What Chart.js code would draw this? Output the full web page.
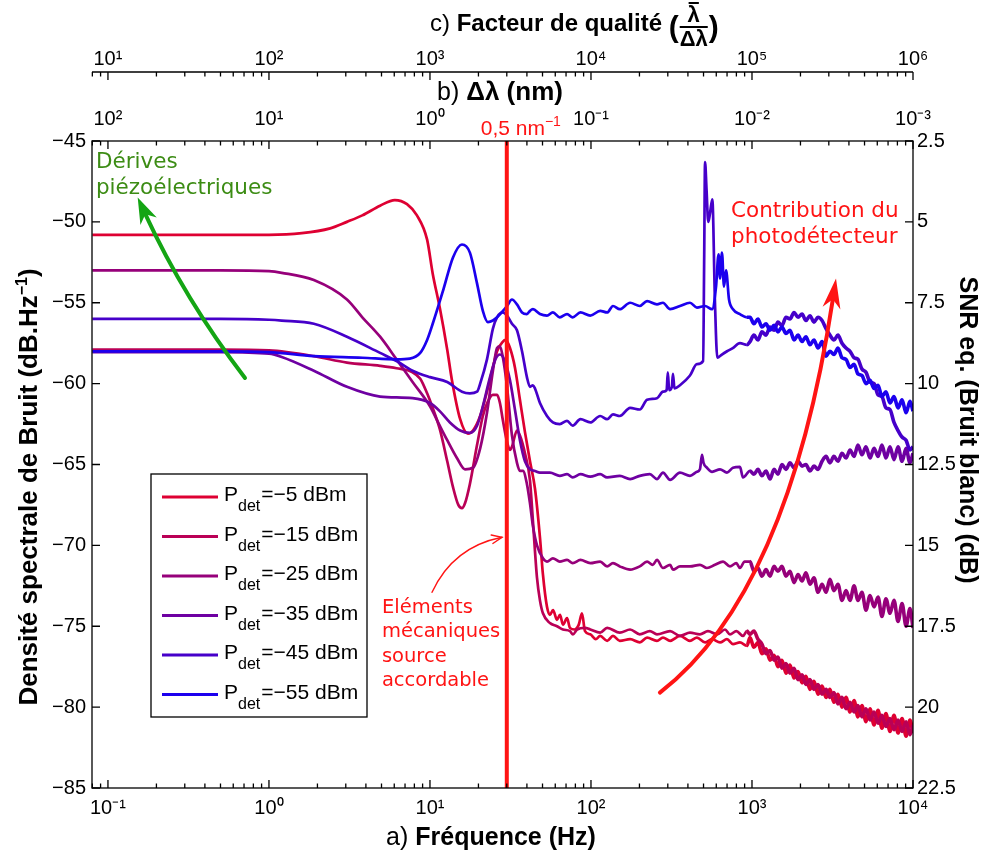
<!DOCTYPE html>
<html>
<head>
<meta charset="utf-8">
<script src="https://cdn.jsdelivr.net/npm/chart.js@4.4.0/dist/chart.umd.min.js"></script>
<style>
  html, body { margin: 0; padding: 0; background: #fff; }
  canvas { display: block; }
</style>
</head>
<body>
<canvas id="myChart" width="981" height="854"></canvas>
<script>
// ---- axis ranges ----
const fRange = [0.0796, 1e4];       // a) frequency (Hz)
const dlRange = [1e-3, 125.6];      // b) delta lambda (nm) = 10 / f
const qRange = [7.96, 1e6];         // c) quality factor = 100 f
const dbRange = [-85, -45];
const snrRange = [2.5, 22.5];
const fMark = 30;                   // 0,5 nm-1 marker

// ---- legend ----
const pdet = ['−5', '−15', '−25', '−35', '−45', '−55'];
const colors = ['rgb(222,0,50)', 'rgb(186,0,86)', 'rgb(150,0,122)', 'rgb(110,0,162)', 'rgb(70,0,202)', 'rgb(28,0,238)'];

// ---- shared frequency grid for the noisy high frequency part (Hz) ----
const fHF = [972,1028,1089,1153,1222,1294,1371,1449,1535,1626,1722,1824,1932,2046,2163,2291,2427,2570,2723,2884,3048,3228,3420,3622,3837,4064,4305,4550,4819,5105,5408,5728,6067,6412,6792,7194,7621,8072,8551,9057,9572,10000];

// ---- Pdet = -5 dBm ----
const f_m5 = [0.08,0.5,1.0,1.6,2.4,3.05,3.8,4.9,6.05,7.2,8.3,9.6,10.4,11.5,12.8,13.7,15.4,17.2,18.5,20.5,22.6,24.6,26.1,28.4,29.5,31.4,33.7,36.2,38.9,41.8,44.9,48.2,50.3,53.3,55.6,58.1,61.5,64.2,67,71,74,79,84,87.9,91.8,99,107,114,126,137,151,175,201,223,257,280,310,357,412,455,511,565,633,699,762,842,930];
const db_m5 = [-50.8,-50.8,-50.8,-50.7,-50.4,-50.0,-49.6,-49.0,-48.65,-48.9,-49.6,-51.1,-53.2,-55.3,-57.9,-59.8,-62.2,-63.1,-62.9,-62.0,-60.5,-59.0,-58.0,-57.4,-57.3,-57.8,-59.0,-61.0,-63.0,-64.8,-66.5,-69.5,-71.8,-73.8,-74.3,-74.0,-74.6,-74.3,-74.9,-74.5,-75.1,-75.2,-74.9,-74.2,-75.3,-75.5,-75.8,-75.6,-75.9,-75.6,-75.9,-75.8,-76.0,-75.7,-75.9,-75.7,-75.9,-75.6,-75.9,-75.7,-76.0,-75.8,-76.0,-75.8,-76.1,-76.0,-76.2];
const db_m5_hf = [-75.7,-76.3,-76.0,-76.7,-76.4,-77.1,-76.8,-77.5,-77.1,-77.9,-77.4,-78.2,-77.8,-78.5,-78.1,-78.9,-78.4,-79.2,-78.7,-79.4,-78.9,-79.7,-79.2,-80.0,-79.4,-80.3,-79.6,-80.6,-79.9,-80.9,-80.1,-81.1,-80.2,-81.3,-80.4,-81.5,-80.5,-81.6,-80.7,-81.8,-80.8,-81.6];

// ---- Pdet = -15 dBm ----
const f_m15 = [0.08,0.5,1.0,1.9,3.05,4.9,6.2,7.8,8.7,9.6,10.4,11.5,12.8,13.9,15.0,15.8,16.5,17.7,19.6,21.3,22.9,24.6,26.1,27.2,28.4,30.1,31.4,32.3,34.7,36.2,38.9,41.8,43.6,46.2,48.2,50.3,55.6,61.5,67,74,77.3,82,91.8,99,114,126,151,175,201,232,257,310,357,412,475,533,607,680,730,800,879,930];
const db_m15 = [-57.9,-57.9,-57.95,-58.3,-58.7,-58.9,-59.05,-59.3,-59.7,-60.6,-61.5,-62.8,-64.8,-66.4,-67.5,-67.7,-67.4,-66.2,-63.8,-62.0,-61.1,-60.7,-60.7,-61.2,-62.3,-63.6,-64.1,-63.9,-62.9,-63.2,-64.3,-66.0,-68.5,-72.0,-73.4,-74.2,-74.8,-75.0,-75.2,-75.3,-75.5,-75.2,-75.1,-75.2,-75.4,-75.1,-75.4,-75.2,-75.5,-75.3,-75.5,-75.3,-75.6,-75.4,-75.5,-75.3,-75.5,-75.2,-75.5,-75.3,-75.6,-75.3];
const db_m15_hf = [-75.5,-75.3,-75.8,-76.1,-76.7,-76.5,-77.1,-76.9,-77.6,-77.3,-77.9,-77.6,-78.3,-78.0,-78.6,-78.3,-78.9,-78.6,-79.2,-78.9,-79.4,-79.1,-79.8,-79.4,-80.1,-79.7,-80.3,-79.9,-80.6,-80.1,-80.8,-80.3,-81.0,-80.5,-81.2,-80.7,-81.4,-80.8,-81.5,-80.9,-81.7,-81.1];

// ---- Pdet = -25 dBm ----
const f_m25 = [0.08,0.5,1.0,1.2,1.9,3.05,3.8,4.9,6.2,7.8,10,11.5,12.8,14.7,16.5,18.5,20.5,22.6,24.6,26.1,27.2,28.4,30.1,32.3,34.7,36.2,37.8,40,41.8,43.6,46.2,50.3,53.3,58,64,71,77,86,99,114,126,137,151,175,201,223,242,257,280,310,323,357,412,475,525,589,661,730,799,842,900];
const db_m25 = [-53.0,-53.0,-53.05,-53.15,-53.6,-54.8,-55.9,-57.1,-58.5,-59.9,-61.4,-62.6,-63.5,-64.6,-65.3,-65.2,-64.0,-61.8,-59.2,-57.8,-57.7,-58.4,-60.2,-63.2,-64.9,-65.4,-65.4,-66.2,-67.4,-68.8,-70.0,-70.8,-71.0,-70.8,-71.0,-70.9,-71.1,-70.9,-71.1,-71.0,-71.3,-71.1,-71.3,-71.5,-71.3,-71.0,-71.2,-70.9,-71.4,-71.2,-71.5,-71.3,-71.3,-71.2,-71.4,-71.2,-71.0,-71.3,-71.1,-71.4,-71.0];
const db_m25_hf = [-71.0,-71.6,-71.4,-71.9,-71.5,-71.9,-71.3,-71.6,-71.3,-71.9,-71.6,-72.3,-71.8,-72.2,-71.7,-72.4,-72.0,-72.9,-72.4,-72.9,-72.1,-72.8,-72.4,-73.4,-72.8,-73.4,-72.5,-73.4,-72.9,-74.0,-73.1,-73.8,-73.2,-74.4,-73.3,-74.2,-73.4,-74.7,-73.6,-75.0,-73.9,-75.1];

// ---- Pdet = -35 dBm ----
const f_m35 = [0.08,0.5,1.0,1.2,1.9,3.05,4.9,7.8,10,11.5,13.3,15.4,17.7,19.6,21.3,23.6,25.5,27.2,29.2,31.4,33.7,36.2,38.9,41.8,44.9,48.2,55.6,64,71,77,86,99,114,126,151,175,201,232,257,280,310,357,412,455,475,489,500,525,565,633,699,762,842,879];
const db_m35 = [-58.05,-58.05,-58.15,-58.35,-59.2,-60.2,-60.8,-60.9,-61.2,-61.7,-62.4,-62.9,-63.05,-62.6,-61.4,-59.6,-58.5,-58.2,-58.6,-59.8,-61.6,-63.5,-64.8,-65.3,-65.4,-65.5,-65.5,-65.7,-65.6,-65.8,-65.6,-65.75,-65.6,-65.8,-65.7,-65.9,-65.7,-65.6,-65.9,-65.5,-65.95,-65.5,-65.7,-65.45,-65.3,-64.4,-64.9,-65.2,-65.45,-65.3,-65.5,-65.2,-65.15,-65.8];
const db_m35_hf = [-65.4,-65.6,-65.3,-65.7,-65.4,-65.9,-65.3,-65.6,-65.0,-65.3,-64.9,-65.2,-64.8,-65.1,-65.0,-65.4,-65.1,-65.3,-64.8,-64.5,-64.9,-64.5,-64.8,-64.3,-64.6,-64.1,-64.5,-63.8,-64.4,-63.9,-64.6,-64.0,-64.5,-63.8,-64.6,-63.9,-64.7,-63.9,-64.8,-64.0,-64.9,-64.3];

// ---- Pdet = -45 dBm ----
const f_m45 = [0.08,0.5,1.0,1.2,1.9,3.05,4.9,6.2,7.8,10,12.8,15.8,17.7,19.6,20.5,22.6,24.6,26.1,28.4,30.1,32.3,34.7,37.3,40.0,41.8,43.6,44.9,48.2,53.3,58,64,71,77,86,99,114,126,137,151,175,201,223,257,280,295,300,306,318,323,330,357,412,455,497,505,511,522,535,548,567,589,609,650,700,760,842,930];
const db_m45 = [-56.0,-56.0,-56.05,-56.1,-56.3,-57.1,-58.1,-58.6,-59.2,-59.6,-59.9,-60.5,-60.6,-60.5,-60.0,-58.5,-56.6,-55.9,-55.6,-55.8,-56.3,-56.7,-58.0,-59.6,-60.2,-60.1,-60.3,-61.2,-62.0,-62.4,-62.5,-62.3,-62.6,-62.2,-62.4,-62.0,-62.2,-61.9,-62.0,-61.5,-61.6,-61.0,-60.9,-60.5,-60.4,-59.3,-60.4,-60.2,-59.4,-60.3,-60.1,-59.5,-58.8,-58.6,-52.0,-46.3,-48.0,-50.0,-49.5,-48.6,-55.0,-58.4,-58.2,-58.0,-57.8,-57.5,-57.6];
const db_m45_hf = [-57.4,-57.0,-57.3,-56.8,-57.0,-56.5,-56.7,-56.2,-56.4,-55.9,-56.0,-55.6,-55.9,-55.7,-56.1,-55.8,-56.2,-55.9,-56.1,-56.6,-57.0,-57.3,-57.0,-57.5,-57.8,-58.0,-58.4,-58.5,-59.1,-59.3,-59.9,-60.0,-60.7,-60.8,-61.5,-61.6,-62.4,-62.9,-63.3,-63.5,-64.1,-63.9];

// ---- Pdet = -55 dBm ----
const f_m55 = [0.08,0.5,1.0,1.9,3.8,6.2,7.5,8.7,9.6,10.4,12.1,13.9,15.8,17.7,19.6,21.3,22.9,24.6,26.1,28.4,30.1,32.3,34.7,37.3,40.0,41.8,43.6,48.2,53.3,58,64,71,77,86,99,114,126,137,151,175,201,223,257,280,310,357,412,455,511,565,598,620,633,651,670,690,720,762,842,930];
const db_m55 = [-58.0,-58.0,-58.05,-58.3,-58.4,-58.5,-58.45,-58.1,-57.3,-56.3,-54.2,-52.2,-51.4,-51.9,-53.8,-55.5,-56.2,-56.1,-55.9,-55.5,-55.2,-54.8,-55.1,-55.6,-55.7,-55.5,-55.4,-55.7,-55.8,-55.6,-55.9,-55.7,-55.9,-55.6,-55.8,-55.5,-55.6,-55.2,-55.4,-55.0,-55.2,-54.9,-55.1,-55.0,-55.4,-55.2,-55.0,-55.3,-55.2,-55.4,-54.0,-52.0,-53.5,-51.9,-54.0,-53.0,-54.8,-55.4,-55.7,-55.9];
const db_m55_hf = [-55.9,-56.3,-56.0,-56.5,-56.3,-56.7,-56.4,-56.8,-56.5,-56.9,-56.7,-57.3,-57.0,-57.4,-57.1,-57.6,-57.3,-57.8,-57.4,-58.3,-58.0,-58.2,-57.8,-58.4,-58.5,-59.0,-58.8,-59.4,-59.5,-60.0,-59.8,-60.3,-60.1,-60.8,-60.5,-61.2,-60.8,-61.5,-61.0,-61.8,-61.1,-61.7];

const FONT = '"Liberation Sans", Arial, Helvetica, sans-serif';
const NOTE = '"DejaVu Sans", Verdana, sans-serif';
const RED = 'rgb(255,20,20)';

function pts(f, db) {
  return f.map((v, i) => ({ x: v, y: db[i] }));
}
function series(i, f, db, dbHf) {
  return {
    label: 'Pdet=' + pdet[i] + ' dBm',
    data: pts(f.concat(fHF), db.concat(dbHf)),
    borderColor: colors[i],
    borderWidth: 2.7,
    // the measured spectra get noisier (thicker) at high frequency
    segment: { borderWidth: c => (c.p0.parsed.x > 900 ? 3.6 : 2.7) },
    pointRadius: 0,
    cubicInterpolationMode: 'monotone',
    xAxisID: 'x', yAxisID: 'y'
  };
}

const SUP = { '-': '⁻', '0': '⁰', '1': '¹', '2': '²', '3': '³', '4': '⁴', '5': '⁵', '6': '⁶' };
function powLabel(v) {
  const e = Math.log10(v), r = Math.round(e);
  if (Math.abs(e - r) > 1e-6) return '';
  return '10' + String(r).split('').map(c => SUP[c]).join('');
}

// draw a run of text pieces with their own fonts, returns the end x
function rich(ctx, parts, x, y) {
  let cx = x;
  parts.forEach(p => {
    ctx.font = p.f;
    cx += p.dx || 0;
    ctx.fillText(p.t, cx, y + (p.dy || 0));
    cx += ctx.measureText(p.t).width;
  });
  return cx;
}
function richWidth(ctx, parts) {
  let w = 0;
  parts.forEach(p => { ctx.font = p.f; w += ctx.measureText(p.t).width + (p.dx || 0); });
  return w;
}

function stealthHead(ctx, tip, ang, len, half) {
  const c = Math.cos(ang), s = Math.sin(ang);
  ctx.beginPath();
  ctx.moveTo(tip[0], tip[1]);
  ctx.lineTo(tip[0] - len * c + half * s, tip[1] - len * s - half * c);
  ctx.lineTo(tip[0] - 0.7 * len * c, tip[1] - 0.7 * len * s);
  ctx.lineTo(tip[0] - len * c - half * s, tip[1] - len * s + half * c);
  ctx.closePath();
  ctx.fill();
}
function curveArrow(ctx, p0, c, p2, color, width, len, half) {
  const ang = Math.atan2(p2[1] - c[1], p2[0] - c[0]);
  const end = [p2[0] - 0.7 * len * Math.cos(ang), p2[1] - 0.7 * len * Math.sin(ang)];
  ctx.strokeStyle = color; ctx.fillStyle = color; ctx.lineWidth = width;
  ctx.beginPath();
  ctx.moveTo(p0[0], p0[1]);
  ctx.quadraticCurveTo(c[0], c[1], end[0], end[1]);
  ctx.stroke();
  stealthHead(ctx, p2, ang, len, half);
}

const notes = {
  id: 'notes',
  afterDatasetsDraw(chart) {
    const { ctx, scales: { x, y } } = chart;
    const P = (f, d) => [x.getPixelForValue(f), y.getPixelForValue(d)];
    ctx.save();
    ctx.lineCap = 'round';
    // piezo drift arrow
    curveArrow(ctx, P(0.71, -59.65), P(0.30, -54.8), P(0.153, -48.5), 'rgb(20,165,20)', 4, 26, 9);
    // photodetector arrow
    curveArrow(ctx, P(268, -79.1), P(1675, -73.0), P(3325, -53.5), RED, 4, 30, 9);
    // small arrow to the 30 Hz line
    const a0 = P(10.3, -72.9), ac = P(13.9, -70.1), a2 = P(28.0, -69.5);
    ctx.strokeStyle = RED; ctx.lineWidth = 1.4;
    ctx.beginPath(); ctx.moveTo(a0[0], a0[1]); ctx.quadraticCurveTo(ac[0], ac[1], a2[0], a2[1]); ctx.stroke();
    const ang = Math.atan2(a2[1] - ac[1], a2[0] - ac[0]);
    ctx.beginPath();
    ctx.moveTo(a2[0] - 11 * Math.cos(ang - 0.4), a2[1] - 11 * Math.sin(ang - 0.4));
    ctx.lineTo(a2[0], a2[1]);
    ctx.lineTo(a2[0] - 11 * Math.cos(ang + 0.4), a2[1] - 11 * Math.sin(ang + 0.4));
    ctx.stroke();

    ctx.textAlign = 'left';
    ctx.textBaseline = 'alphabetic';
    ctx.fillStyle = 'rgb(60,140,20)';
    ctx.font = '21.5px ' + NOTE;
    let p = P(0.0842, -46.67); ctx.fillText('Dérives', p[0], p[1]);
    p = P(0.0842, -48.28); ctx.fillText('piézoélectriques', p[0], p[1]);
    ctx.fillStyle = RED;
    p = P(741, -49.70); ctx.fillText('Contribution du', p[0], p[1]);
    p = P(741, -51.31); ctx.fillText('photodétecteur', p[0], p[1]);
    ctx.font = '19.5px ' + NOTE;
    const lines = ['Eléments', 'mécaniques', 'source', 'accordable'];
    const ys = [-74.18, -75.66, -77.21, -78.69];
    lines.forEach((t, i) => { const q = P(5.03, ys[i]); ctx.fillText(t, q[0], q[1]); });
    ctx.restore();
  }
};

const frame = {
  id: 'frame',
  afterDraw(chart) {
    const { ctx, chartArea: a, scales: { x, y, y2, q } } = chart;
    ctx.save();
    ctx.strokeStyle = '#000';
    ctx.lineWidth = 1.3;
    ctx.strokeRect(a.left, a.top, a.right - a.left, a.bottom - a.top);

    // log ticks: bottom, mirrored on top, and on the quality factor axis
    const qy = q.bottom - 1;
    ctx.beginPath();
    ctx.moveTo(a.left, qy); ctx.lineTo(a.right, qy);
    for (let e = -2; e <= 6; e++) {
      for (let m = 1; m < 10; m++) {
        const v = m * Math.pow(10, e);
        const L = m === 1 ? 8 : 4.5;
        if (v >= x.min && v <= x.max) {
          const px = x.getPixelForValue(v);
          ctx.moveTo(px, a.bottom); ctx.lineTo(px, a.bottom - L);
          ctx.moveTo(px, a.top); ctx.lineTo(px, a.top + L);
        }
        if (v >= q.min && v <= q.max) {
          const px = q.getPixelForValue(v);
          ctx.moveTo(px, qy); ctx.lineTo(px, qy + L);
        }
      }
    }
    for (let v = dbRange[0]; v <= dbRange[1]; v += 5) {
      const py = y.getPixelForValue(v);
      ctx.moveTo(a.left, py); ctx.lineTo(a.left + 8, py);
    }
    for (let v = snrRange[0]; v <= snrRange[1]; v += 2.5) {
      const py = y2.getPixelForValue(v);
      ctx.moveTo(a.right, py); ctx.lineTo(a.right - 8, py);
    }
    ctx.stroke();

    // 0,5 nm-1 label above the marker line
    const mx = x.getPixelForValue(fMark);
    ctx.fillStyle = RED;
    ctx.textBaseline = 'alphabetic';
    const mk = [{ t: '0,5 nm', f: '21px ' + FONT }, { t: '−1', f: '14px ' + FONT, dy: -9 }];
    rich(ctx, mk, mx + 14 - richWidth(ctx, mk) / 2, a.top - 6);

    // legend
    const lx = a.left + 59, ly = a.top + 333, lw = 216, lh = 243;
    ctx.fillStyle = '#fff';
    ctx.fillRect(lx, ly, lw, lh);
    ctx.strokeStyle = '#000'; ctx.lineWidth = 1.3;
    ctx.strokeRect(lx, ly, lw, lh);
    pdet.forEach((p, i) => {
      const yy = ly + 23 + i * 39.5;
      ctx.strokeStyle = colors[i]; ctx.lineWidth = 3;
      ctx.beginPath(); ctx.moveTo(lx + 11, yy); ctx.lineTo(lx + 67, yy); ctx.stroke();
      ctx.fillStyle = '#000';
      rich(ctx, [
        { t: 'P', f: '21px ' + FONT },
        { t: 'det', f: '16px ' + FONT, dy: 10 },
        { t: '=' + p + ' dBm', f: '21px ' + FONT, dx: 1 }
      ], lx + 73, yy + 4);
    });

    // axis titles
    ctx.fillStyle = '#000';
    const N = s => s + 'px ' + FONT, B = s => 'bold ' + s + 'px ' + FONT;
    const at = [{ t: 'a) ', f: N(25) }, { t: 'Fréquence (Hz)', f: B(25) }];
    rich(ctx, at, 491 - richWidth(ctx, at) / 2, 845);
    const bt = [{ t: 'b) ', f: N(25) }, { t: 'Δλ (nm)', f: B(26) }];
    rich(ctx, bt, 500 - richWidth(ctx, bt) / 2, 100);

    let cx = rich(ctx, [{ t: 'c) ', f: N(24) }, { t: 'Facteur de qualité ', f: B(24) }], 430, 31);
    ctx.font = B(30); ctx.fillText('(', cx, 37); cx += ctx.measureText('(').width + 1;
    ctx.font = B(22);
    const wd = ctx.measureText('Δλ').width, wn = ctx.measureText('λ').width;
    ctx.fillText('λ', cx + (wd - wn) / 2, 22);
    ctx.fillRect(cx + (wd - wn) / 2 + 1, 2, wn - 2, 2);
    ctx.fillRect(cx, 26, wd, 2);
    ctx.fillText('Δλ', cx, 46);
    cx += wd + 1;
    ctx.font = B(30); ctx.fillText(')', cx, 37);

    ctx.save();
    ctx.translate(37, 487); ctx.rotate(-Math.PI / 2);
    const lt = [{ t: 'Densité spectrale de Bruit (dB.Hz', f: B(26) }, { t: '−1', f: B(16), dy: -10 }, { t: ')', f: B(26) }];
    rich(ctx, lt, -richWidth(ctx, lt) / 2, 0);
    ctx.restore();

    ctx.save();
    ctx.translate(960, 430); ctx.rotate(Math.PI / 2);
    const rt = [{ t: 'SNR eq. (Bruit blanc) (dB)', f: B(25) }];
    rich(ctx, rt, -richWidth(ctx, rt) / 2, 0);
    ctx.restore();

    ctx.restore();
  }
};

const tickFont = { family: FONT, size: 20 };
const noGrid = { display: false, drawTicks: false };

const ctx = document.getElementById('myChart').getContext('2d');
const chart = new Chart(ctx, {
  type: 'line',
  data: {
    datasets: [
      {
        label: '0,5 nm-1',
        data: [{ x: fMark, y: dbRange[0] }, { x: fMark, y: dbRange[1] }],
        borderColor: RED, borderWidth: 4, pointRadius: 0, tension: 0,
        xAxisID: 'x', yAxisID: 'y'
      },
      series(5, f_m55, db_m55, db_m55_hf),
      series(4, f_m45, db_m45, db_m45_hf),
      series(3, f_m35, db_m35, db_m35_hf),
      series(2, f_m25, db_m25, db_m25_hf),
      series(1, f_m15, db_m15, db_m15_hf),
      series(0, f_m5, db_m5, db_m5_hf)
    ]
  },
  options: {
    responsive: false,
    animation: false,
    devicePixelRatio: 1,
    events: [],
    layout: { padding: 0 },
    plugins: { legend: { display: false }, tooltip: { enabled: false } },
    scales: {
      x: {
        type: 'logarithmic', position: 'bottom', min: fRange[0], max: fRange[1],
        afterFit: s => { s.height = 66; },
        grid: noGrid, border: { display: false },
        ticks: { autoSkip: false, maxRotation: 0, padding: 8, color: '#000', font: tickFont, callback: powLabel }
      },
      dl: {
        type: 'logarithmic', position: 'top', weight: 1, reverse: true, min: dlRange[0], max: dlRange[1],
        afterFit: s => { s.height = 68; },
        grid: noGrid, border: { display: false },
        ticks: { autoSkip: false, maxRotation: 0, padding: 10, color: '#000', font: tickFont, callback: powLabel }
      },
      q: {
        type: 'logarithmic', position: 'top', weight: 2, min: qRange[0], max: qRange[1],
        afterFit: s => { s.height = 73; },
        grid: noGrid, border: { display: false },
        ticks: { autoSkip: false, maxRotation: 0, padding: 2, color: '#000', font: tickFont, callback: powLabel }
      },
      y: {
        type: 'linear', position: 'left', min: dbRange[0], max: dbRange[1],
        afterFit: s => { s.width = 92; },
        grid: noGrid, border: { display: false },
        ticks: { stepSize: 5, padding: 6, color: '#000', font: tickFont, callback: v => (v < 0 ? '−' + (-v) : String(v)) }
      },
      y2: {
        type: 'linear', position: 'right', reverse: true, min: snrRange[0], max: snrRange[1],
        afterFit: s => { s.width = 68; },
        grid: noGrid, border: { display: false },
        ticks: { stepSize: 2.5, padding: 4, color: '#000', font: tickFont }
      }
    }
  },
  plugins: [notes, frame]
});
</script>
</body>
</html>
